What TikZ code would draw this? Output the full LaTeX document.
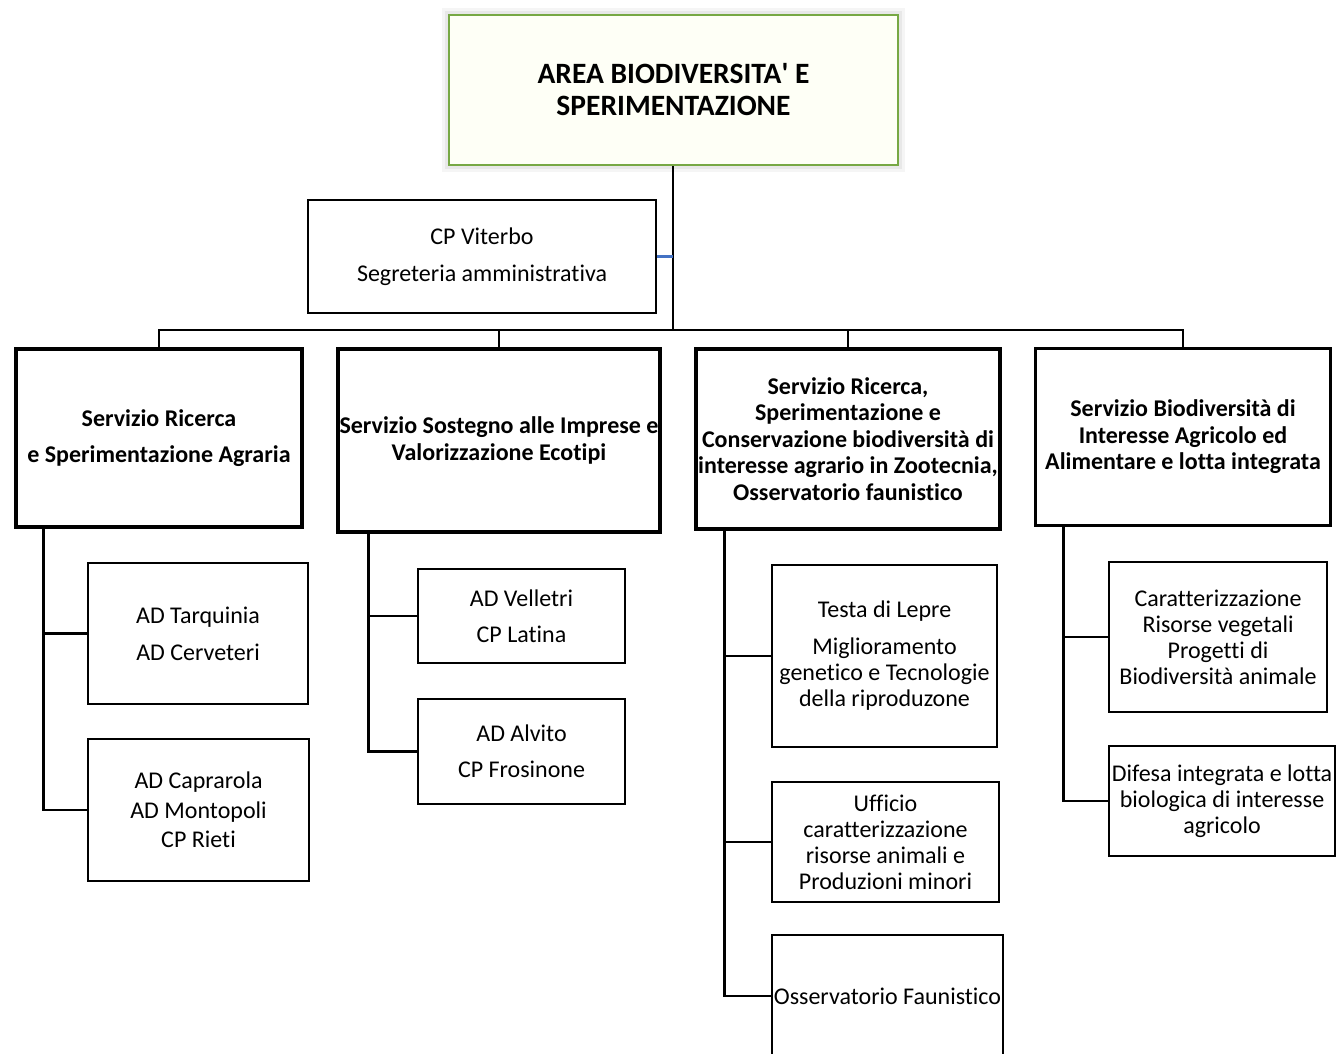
\documentclass[tikz,border=0pt]{standalone}
\usepackage{fontspec}
\setmainfont{Carlito}[Ligatures={TeX,NoCommon}]
\definecolor{topgreen}{HTML}{77A844}
\definecolor{topfill}{HTML}{FEFFF6}
\definecolor{linkblue}{HTML}{4472C4}
\begin{document}
\begin{tikzpicture}[x=1pt,y=-1pt,
  every node/.style={font=\fontsize{24}{26}\selectfont, align=center, inner sep=0pt},
  topbox/.style={draw=topgreen, line width=2.5pt, fill=topfill, font=\bfseries\fontsize{29.5}{32}\selectfont},
  childbox/.style={draw=black, line width=2.4pt, fill=white},
  servbox/.style={draw=black, line width=4.5pt, fill=white, font=\bfseries\fontsize{24}{26.5}\selectfont},
  conn/.style={line width=2.7pt, draw=black},
]
\useasboundingbox (0,0) rectangle (1336,1054);
\clip (0,0) rectangle (1336,1054);
\fill[white] (0,0) rectangle (1336,1054);

% soft shadow of top box
\fill[black!4] (442,8) rectangle (905,172);
\fill[black!9] (445,11) rectangle (902,169);

\node[topbox, minimum width=449, minimum height=150] (top) at (673.5,90)
  {AREA BIODIVERSITA\textquotesingle{} E\\SPERIMENTAZIONE};

\node[childbox, minimum width=348, minimum height=113] (cpv) at (482,256.5)
  {CP Viterbo\\[11pt]Segreteria amministrativa};

% services
\node[servbox, minimum width=286, minimum height=178] (s1) at (159,438)
  {Servizio Ricerca\\[9.5pt]e Sperimentazione Agraria};
\node[servbox, minimum width=322, minimum height=183] (s2) at (499,440.5)
  {Servizio Sostegno alle Imprese e\\Valorizzazione Ecotipi};
\node[servbox, minimum width=304, minimum height=180] (s3) at (848,439)
  {Servizio Ricerca,\\Sperimentazione e\\Conservazione biodiversità di\\interesse agrario in Zootecnia,\\Osservatorio faunistico};
\node[servbox, line width=3.5pt, minimum width=295, minimum height=177] (s4) at (1183,437)
  {Servizio Biodiversità di\\Interesse Agricolo ed\\Alimentare e lotta integrata};

% children
\node[childbox, minimum width=220, minimum height=141] (a1) at (198,633.5)
  {AD Tarquinia\\[11pt]AD Cerveteri};
\node[childbox, minimum width=221, minimum height=142] (a2) at (198.5,810)
  {AD Caprarola\\[3.5pt]AD Montopoli\\[3.5pt]CP Rieti};
\node[childbox, minimum width=207, minimum height=94] (b1) at (521.5,616)
  {AD Velletri\\[10pt]CP Latina};
\node[childbox, minimum width=207, minimum height=105] (b2) at (521.5,751.5)
  {AD Alvito\\[10pt]CP Frosinone};
\node[childbox, minimum width=225, minimum height=182] (c1) at (884.5,656)
  {Testa di Lepre\\[11pt]Miglioramento\\genetico e Tecnologie\\della riproduzone};
\node[childbox, minimum width=227, minimum height=120] (c2) at (885.5,842)
  {Ufficio\\caratterizzazione\\risorse animali e\\Produzioni minori};
\node[childbox, minimum width=231, minimum height=122] (c3) at (887.5,996)
  {Osservatorio Faunistico};
\node[childbox, minimum width=218, minimum height=150] (d1) at (1218,637)
  {Caratterizzazione\\Risorse vegetali\\Progetti di\\Biodiversità animale};
\node[childbox, minimum width=226, minimum height=110] (d2) at (1222,801)
  {Difesa integrata e lotta\\biologica di interesse\\agricolo};

% main connectors
\coordinate (bus) at (673,330);
\draw[conn] (top.south -| bus) -- (bus);
\draw[conn] (s1.north) -- (s1.north |- bus) -- (s4.north |- bus) -- (s4.north);
\draw[conn] (s2.north) -- (s2.north |- bus);
\draw[conn] (s3.north) -- (s3.north |- bus);
\draw[line width=2.4pt, draw=linkblue] (cpv.east) -- (cpv.east -| bus);

% spines
\draw[conn] ([xshift=30]s1.south west) |- (a1.west);
\draw[conn] ([xshift=30]s1.south west) |- (a2.west);
\draw[conn] ([xshift=33]s2.south west) |- (b1.west);
\draw[conn] ([xshift=33]s2.south west) |- (b2.west);
\draw[conn] ([xshift=31]s3.south west) |- (c1.west);
\draw[conn] ([xshift=31]s3.south west) |- (c2.west);
\draw[conn] ([xshift=31]s3.south west) |- (c3.west);
\draw[conn] ([xshift=30]s4.south west) |- (d1.west);
\draw[conn] ([xshift=30]s4.south west) |- (d2.west);
\end{tikzpicture}
\end{document}
